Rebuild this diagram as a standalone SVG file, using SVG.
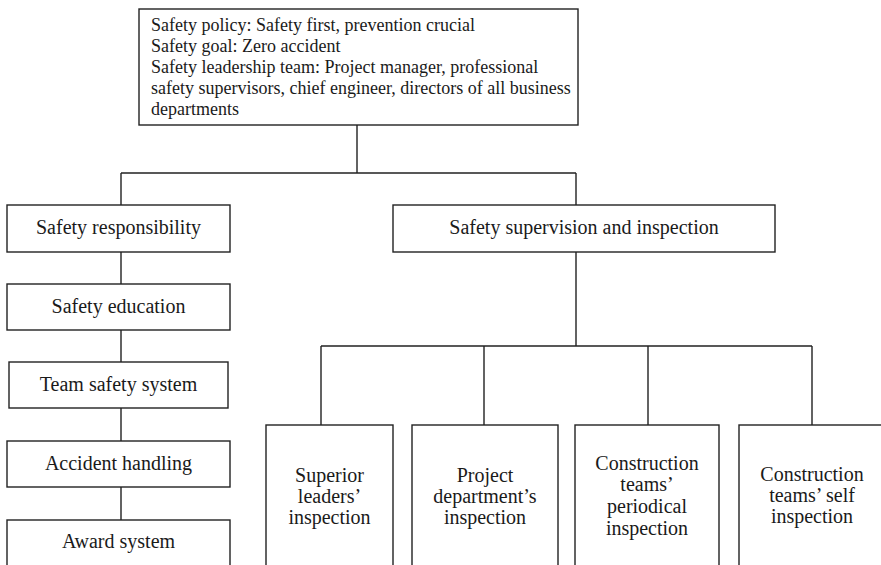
<svg xmlns="http://www.w3.org/2000/svg" width="881" height="565" viewBox="0 0 881 565">
<style>
.box{fill:#fff;stroke:#222;stroke-width:1.4}
.ln{fill:none;stroke:#222;stroke-width:1.4}
text{font-family:"Liberation Serif","Times New Roman",serif;fill:#1a1a1a}
.t{font-size:18px}
.l{font-size:20px;text-anchor:middle}
</style>
<rect width="881" height="565" fill="#fff"/>
<g id="connectors">
<path class="ln" d="M357,125V173M121,173H576M121,173V205M576,173V205"/>
<path class="ln" d="M121,252V284M121,330V362M121,408V441M121,487V520"/>
<path class="ln" d="M576,252V346M321,346H812M321,346V425M484,346V425M648,346V425M812,346V425"/>
</g>
<g id="top">
<rect class="box" x="139" y="9" width="439" height="116"/>
<text class="t" x="151" y="31">Safety policy: Safety first, prevention crucial</text>
<text class="t" x="151" y="52">Safety goal: Zero accident</text>
<text class="t" x="151" y="73">Safety leadership team: Project manager, professional</text>
<text class="t" x="151" y="94">safety supervisors, chief engineer, directors of all business</text>
<text class="t" x="151" y="115">departments</text>
</g>
<g id="resp"><rect class="box" x="7" y="205" width="223" height="47"/><text class="l" x="118.5" y="234">Safety responsibility</text></g>
<g id="edu"><rect class="box" x="7" y="284" width="223" height="46"/><text class="l" x="118.5" y="313">Safety education</text></g>
<g id="team"><rect class="box" x="9" y="362" width="219" height="46"/><text class="l" x="118.5" y="391">Team safety system</text></g>
<g id="acc"><rect class="box" x="7" y="441" width="223" height="46"/><text class="l" x="118.5" y="470">Accident handling</text></g>
<g id="award"><rect class="box" x="7" y="520" width="223" height="60"/><text class="l" x="118.5" y="548">Award system</text></g>
<g id="sup"><rect class="box" x="393" y="205" width="382" height="47"/><text class="l" x="584" y="234">Safety supervision and inspection</text></g>
<g id="b1"><rect class="box" x="266" y="425" width="127" height="160"/>
<text class="l" x="329.5"><tspan x="329.5" y="482">Superior</tspan><tspan x="329.5" y="503">leaders’</tspan><tspan x="329.5" y="524">inspection</tspan></text></g>
<g id="b2"><rect class="box" x="412" y="425" width="146" height="160"/>
<text class="l" x="485"><tspan x="485" y="482">Project</tspan><tspan x="485" y="503">department’s</tspan><tspan x="485" y="524">inspection</tspan></text></g>
<g id="b3"><rect class="box" x="575" y="425" width="144" height="160"/>
<text class="l" x="647"><tspan x="647" y="470">Construction</tspan><tspan x="647" y="491">teams’</tspan><tspan x="647" y="513">periodical</tspan><tspan x="647" y="535">inspection</tspan></text></g>
<g id="b4"><rect class="box" x="739" y="425" width="160" height="160"/>
<text class="l" x="812"><tspan x="812" y="481">Construction</tspan><tspan x="812" y="502">teams’ self</tspan><tspan x="812" y="523">inspection</tspan></text></g>
</svg>
